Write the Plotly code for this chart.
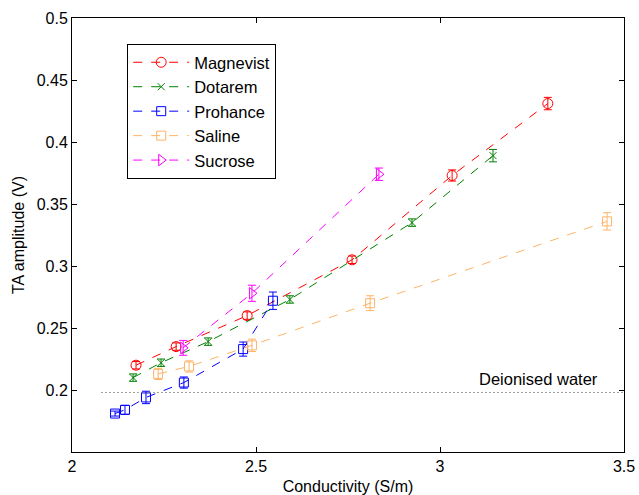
import plotly.graph_objects as go

# ---- data ----
mag_x = [2.174, 2.283, 2.476, 2.761, 3.033, 3.293]
mag_y = [0.220, 0.235, 0.260, 0.305, 0.373, 0.431]
mag_e = [0.003, 0.003, 0.003, 0.003, 0.0045, 0.005]

dot_x = [2.166, 2.242, 2.370, 2.592, 2.924, 3.144]
dot_y = [0.210, 0.222, 0.239, 0.273, 0.335, 0.389]
dot_e = [0.003, 0.003, 0.003, 0.003, 0.003, 0.005]

pro_x = [2.117, 2.144, 2.201, 2.304, 2.465, 2.546]
pro_y = [0.181, 0.184, 0.194, 0.206, 0.233, 0.272]
pro_e = [0.002, 0.0036, 0.005, 0.0045, 0.0057, 0.007]

sal_x = [2.234, 2.318, 2.489, 2.810, 3.454]
sal_y = [0.213, 0.219, 0.236, 0.270, 0.336]
sal_e = [0.0045, 0.0045, 0.005, 0.006, 0.007]

suc_x = [2.302, 2.489, 2.834]
suc_y = [0.234, 0.278, 0.374]
suc_e = [0.006, 0.0065, 0.005]

water_level = 0.198
water_x = [2.08, 3.5]
water_label = "Deionised water"

x_ticks = [2, 2.5, 3, 3.5]
x_ticklabels = ["2", "2.5", "3", "3.5"]
y_ticks = [0.2, 0.25, 0.3, 0.35, 0.4, 0.45, 0.5]
y_ticklabels = ["0.2", "0.25", "0.3", "0.35", "0.4", "0.45", "0.5"]

series = [
    ("Magnevist", mag_x, mag_y, mag_e, "#FF0000", "circle-open", 10),
    ("Dotarem", dot_x, dot_y, dot_e, "#008000", "x-thin-open", 7),
    ("Prohance", pro_x, pro_y, pro_e, "#0000FF", "square-open", 9),
    ("Saline", sal_x, sal_y, sal_e, "#FFB366", "square-open", 9),
    ("Sucrose", suc_x, suc_y, suc_e, "#FF00FF", "triangle-right-open", 10),
]

FONT = "Liberation Sans, Arial, Helvetica, sans-serif"

fig = go.Figure()
for name, xs, ys, es, col, sym, sz in series:
    fig.add_trace(go.Scatter(
        x=xs, y=ys, name=name, mode="lines+markers",
        line=dict(color=col, width=1, dash="dash"),
        marker=dict(symbol=sym, size=sz, color=col, line=dict(color=col, width=1)),
        error_y=dict(type="data", array=es, visible=True, color=col, thickness=1, width=4),
    ))

fig.add_trace(go.Scatter(
    x=water_x, y=[water_level, water_level], mode="lines", showlegend=False,
    line=dict(color="#444444", width=1, dash="1px,3px"), hoverinfo="skip",
))
fig.add_annotation(x=3.435, y=water_level, yshift=13, text=water_label,
                   showarrow=False, xanchor="right", font=dict(size=16.5, color="black", family=FONT))

axis_common = dict(
    showline=True, linecolor="black", linewidth=1, mirror="allticks",
    ticks="inside", ticklen=5, tickcolor="black", showgrid=False, zeroline=False,
    tickfont=dict(size=16, color="black", family=FONT), automargin=False,
)
fig.update_xaxes(range=[2, 3.5], tickvals=x_ticks, ticktext=x_ticklabels,
                 title=dict(text="Conductivity (S/m)", font=dict(size=16, color="black", family=FONT), standoff=12),
                 **axis_common)
fig.update_yaxes(range=[0.15, 0.5], tickvals=y_ticks, ticktext=y_ticklabels,
                 title=dict(text="TA amplitude (V)", font=dict(size=16, color="black", family=FONT), standoff=8),
                 **axis_common)

fig.update_layout(
    width=639, height=495,
    margin=dict(l=72, r=15, t=18, b=43),
    plot_bgcolor="white", paper_bgcolor="white",
    font=dict(family=FONT, size=16, color="black"),
    legend=dict(x=0.1, y=0.94, xanchor="left", yanchor="top",
                bordercolor="black", borderwidth=1, bgcolor="white",
                font=dict(size=16.5, family=FONT), tracegroupgap=0, itemwidth=56),
    showlegend=True,
)

fig.write_html("out.html", config={"displayModeBar": False},
               post_script="document.body.style.margin='0';document.body.style.padding='0';")
